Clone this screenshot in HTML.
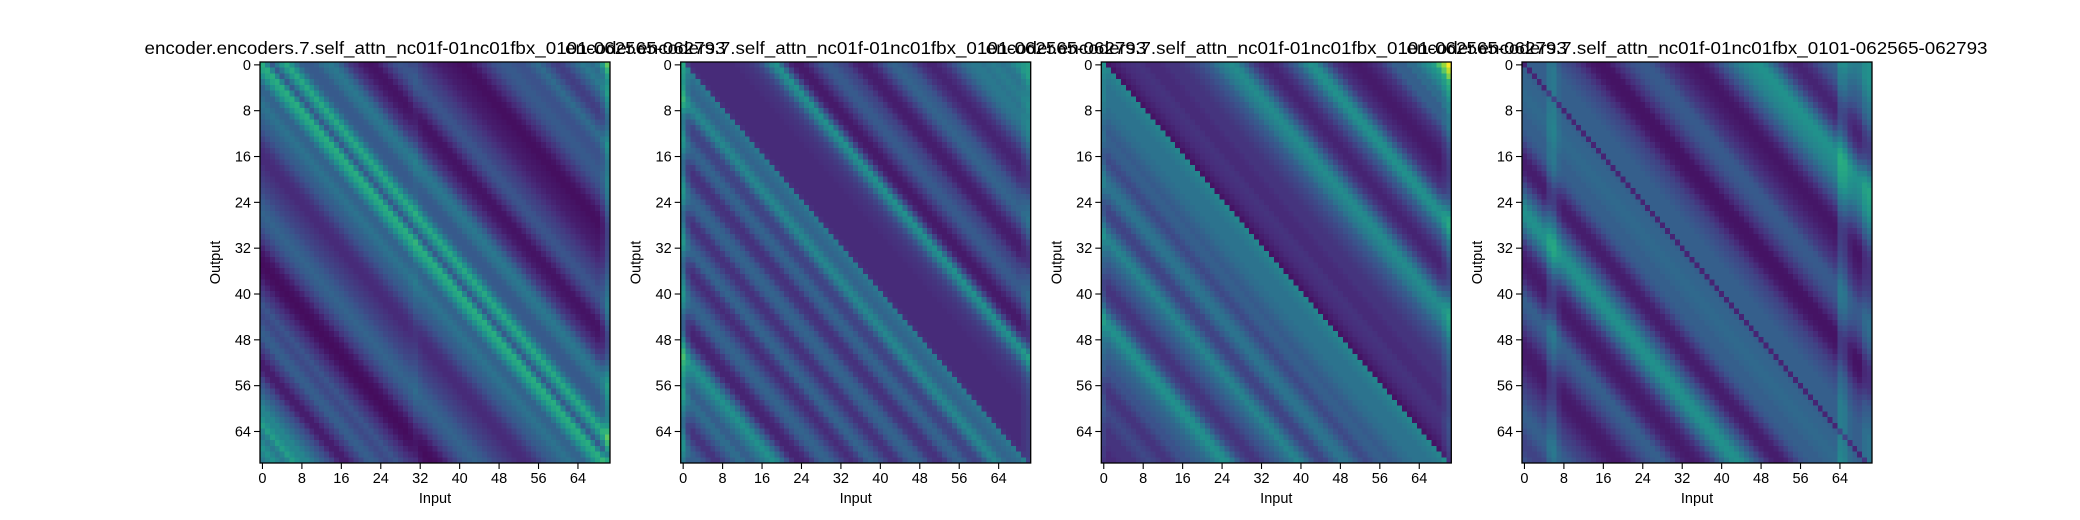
<!DOCTYPE html>
<html><head><meta charset="utf-8">
<style>
html,body{margin:0;padding:0;background:#fff;}
svg{display:block;}
text{font-family:"Liberation Sans","DejaVu Sans",sans-serif;fill:#000;}
</style></head>
<body>
<svg id="fig" width="2080" height="520" viewBox="0 0 2080 520" xmlns="http://www.w3.org/2000/svg">
<rect x="0" y="0" width="2080" height="520" fill="#fff"/>
</svg>
<script>
// ---- data (values normalized 0..1), diagonal profile indexed by d = input - output, d from -70..70
const nRows = 70;
const nCols = 71;
const tickValues = [0,8,16,24,32,40,48,56,64];
const panelTitle = "encoder.encoders.7.self_attn_nc01f-01nc01fbx_0101-062565-062793";

const diagPanel1 = [
0.45,0.4,0.45,0.5,0.45,0.4,0.45,0.55,0.5,0.45,
0.45,0.4,0.35,0.3,0.25,0.2,0.12,0.08,0.08,0.12,
0.18,0.22,0.28,0.3,0.28,0.24,0.22,0.24,0.26,0.22,
0.18,0.14,0.1,0.06,0.04,0.03,0.04,0.06,0.1,0.16,
0.2,0.24,0.28,0.3,0.32,0.3,0.28,0.25,0.22,0.2,
0.18,0.16,0.14,0.12,0.12,0.13,0.16,0.2,0.24,0.28,
0.3,0.33,0.36,0.38,0.35,0.32,0.32,0.4,0.5,0.58,
0.62,0.45,0.28,0.4,0.52,0.6,0.5,0.38,0.3,0.28,
0.28,0.3,0.35,0.38,0.4,0.36,0.3,0.22,0.16,0.12,
0.08,0.06,0.05,0.06,0.1,0.15,0.2,0.24,0.26,0.25,
0.22,0.2,0.18,0.15,0.12,0.1,0.08,0.07,0.06,0.05,
0.04,0.04,0.05,0.08,0.12,0.16,0.2,0.24,0.26,0.28,
0.28,0.26,0.25,0.25,0.28,0.32,0.35,0.3,0.25,0.2,
0.18,0.2,0.25,0.3,0.35,0.4,0.38,0.35,0.4,0.5,0.6];

const diagPanel2 = [
0.2,0.2,0.25,0.3,0.3,0.25,0.2,0.15,0.15,0.2,
0.25,0.3,0.35,0.35,0.3,0.3,0.35,0.4,0.45,0.5,
0.45,0.35,0.25,0.15,0.1,0.1,0.12,0.18,0.25,0.3,
0.32,0.3,0.25,0.2,0.15,0.12,0.15,0.2,0.28,0.32,
0.3,0.25,0.2,0.15,0.14,0.18,0.25,0.3,0.32,0.3,
0.25,0.18,0.15,0.14,0.18,0.25,0.3,0.32,0.28,0.22,
0.2,0.22,0.3,0.4,0.46,0.42,0.35,0.32,0.34,0.36,
0.4,0.14,0.12,0.12,0.12,0.12,0.12,0.12,0.12,0.12,
0.12,0.13,0.14,0.15,0.17,0.2,0.25,0.35,0.45,0.5,
0.35,0.2,0.1,0.07,0.07,0.1,0.15,0.2,0.25,0.28,
0.28,0.25,0.22,0.2,0.15,0.1,0.08,0.08,0.1,0.14,
0.2,0.25,0.3,0.32,0.3,0.28,0.25,0.2,0.15,0.12,
0.1,0.1,0.12,0.15,0.2,0.25,0.3,0.35,0.38,0.4,
0.4,0.38,0.4,0.42,0.4,0.38,0.4,0.45,0.5,0.5,0.5];

const diagPanel3 = [
0.1,0.1,0.12,0.12,0.14,0.15,0.15,0.15,0.18,0.2,
0.22,0.2,0.18,0.15,0.15,0.18,0.22,0.25,0.25,0.28,
0.3,0.32,0.35,0.4,0.45,0.5,0.48,0.4,0.3,0.22,
0.18,0.15,0.15,0.18,0.22,0.25,0.28,0.32,0.36,0.4,
0.45,0.42,0.35,0.28,0.22,0.2,0.22,0.28,0.33,0.38,
0.38,0.35,0.3,0.25,0.22,0.24,0.28,0.3,0.3,0.28,
0.3,0.32,0.35,0.36,0.38,0.38,0.38,0.38,0.4,0.42,
0.45,0.05,0.08,0.1,0.12,0.13,0.14,0.15,0.14,0.12,
0.12,0.12,0.13,0.15,0.15,0.15,0.16,0.18,0.2,0.22,
0.25,0.28,0.32,0.38,0.42,0.45,0.48,0.45,0.38,0.3,
0.22,0.16,0.12,0.1,0.1,0.12,0.15,0.2,0.25,0.3,
0.38,0.45,0.5,0.48,0.4,0.3,0.22,0.15,0.12,0.1,
0.08,0.07,0.07,0.08,0.1,0.12,0.15,0.2,0.25,0.3,
0.3,0.3,0.35,0.35,0.4,0.45,0.5,0.55,0.7,0.8,0.9];

const diagPanel4 = [
0.25,0.25,0.22,0.2,0.2,0.22,0.25,0.28,0.3,0.3,
0.28,0.25,0.22,0.2,0.18,0.15,0.12,0.1,0.08,0.07,
0.07,0.08,0.1,0.14,0.18,0.22,0.25,0.28,0.3,0.3,
0.25,0.2,0.14,0.1,0.08,0.07,0.08,0.1,0.14,0.2,
0.28,0.35,0.42,0.48,0.5,0.48,0.42,0.35,0.28,0.22,
0.15,0.1,0.08,0.08,0.1,0.15,0.2,0.25,0.28,0.3,
0.3,0.3,0.32,0.33,0.34,0.34,0.33,0.32,0.32,0.3,
0.1,0.3,0.3,0.3,0.3,0.3,0.28,0.26,0.24,0.22,
0.2,0.16,0.12,0.08,0.06,0.05,0.05,0.06,0.1,0.14,
0.18,0.22,0.25,0.27,0.28,0.28,0.26,0.22,0.18,0.15,
0.12,0.1,0.08,0.07,0.06,0.06,0.07,0.1,0.14,0.2,
0.25,0.3,0.35,0.4,0.44,0.46,0.48,0.5,0.5,0.45,
0.38,0.3,0.22,0.16,0.12,0.1,0.1,0.12,0.15,0.2,
0.24,0.28,0.3,0.32,0.35,0.38,0.4,0.42,0.42,0.42,0.42];

// per-column additive brightness (input positions)
const colPanel1 = [0,0,0,0,0,0,0,0,0,0, 0,0,0,0,0,0,0,0,0,0, 0,0,0,0,0,0,0,0,0,0, 0.01,0.03,0.01,0,0,0,0,0,0,0, 0,0,0,0,0,0,0,0,0,0, 0,0,0,0,0,0,0,0,0,0, 0,0,0,0,0,0,0,0,0,0.04,0.15];
const colPanel2 = [0.2,0.05,0,0,0,0,0,0,0,0, 0,0,0,0,0,0,0,0,0,0, 0,0,0,0,0,0,0,0,0,0, 0,0,0,0,0,0,0,0,0,0, 0,0,0,0,0,0,0,0,0,0, 0,0,0,0,0,0,0,0,0,0, 0,0,0,0,0,0,0,0,0,0.03,0.06];
const colPanel3 = [0.05,0,0,0,0,0,0,0,0,0, 0,0,0,0,0,0,0,0,0,0, 0,0,0,0,0,0,0,0,0,0, 0,0,0,0,0,0,0,0,0,0, 0,0,0,0,0,0,0,0,0,0, 0,0,0,0,0,0,0,0,0,0, 0,0,0,0,0,0,0,0,0,0.04,0.1];
const colPanel4 = [0,0,0,0,0,0.08,0.1,0.03,0,0, 0,0,0,0,0,0,0,0,0,0, 0,0,0,0,0,0,0,0,0,0, 0,0,0,0,0,0,0,0,0,0, 0,0,0,0,0,0,0,0,0,0, 0,0,0,0,0,0,0,0,0,0, 0,0,0,0,0.12,0.1,0.03,0,0,0.06,0.08];

const panelDiags = [diagPanel1, diagPanel2, diagPanel3, diagPanel4];
const panelCols = [colPanel1, colPanel2, colPanel3, colPanel4];

// ---- layout
const panelLefts = [260, 680.7, 1101.3, 1522];
const plotTop = 62, plotW = 350, plotH = 401;
const cellW = plotW / nCols, cellH = plotH / nRows;
const NS = "http://www.w3.org/2000/svg";
const svg = document.getElementById('fig');

const viridis = [[68,1,84],[71,45,123],[59,82,139],[44,114,142],[33,145,140],[40,174,128],[94,201,98],[173,220,48],[253,231,37]];
function colorOf(v){
  v = Math.max(0, Math.min(1, v));
  const p = v * (viridis.length - 1);
  const i = Math.min(viridis.length - 2, Math.floor(p));
  const t = p - i;
  const a = viridis[i], b = viridis[i+1];
  return 'rgb(' + Math.round(a[0]+(b[0]-a[0])*t) + ',' + Math.round(a[1]+(b[1]-a[1])*t) + ',' + Math.round(a[2]+(b[2]-a[2])*t) + ')';
}
function xScale(p, col){ return panelLefts[p] + col * cellW; }
function yScale(row){ return plotTop + row * cellH; }
function mk(tag, attrs){ const e = document.createElementNS(NS, tag); for (const k in attrs) e.setAttribute(k, attrs[k]); return e; }

for (let p = 0; p < 4; p++) {
  const g = mk('g', {});
  
  
  svg.appendChild(g);
  const cells = mk('g', {'shape-rendering':'crispEdges'});
  
  
  g.appendChild(cells);
  const diag = panelDiags[p], cols = panelCols[p];
  for (let r = 0; r < nRows; r++) {
    for (let c = 0; c < nCols; c++) {
      const v = diag[c - r + 70] + cols[c];
      const x0 = xScale(p, c), y0 = yScale(r);
      const rc = mk('rect', {x: x0.toFixed(2), y: y0.toFixed(2), width: (cellW + 0.4).toFixed(2), height: (cellH + 0.4).toFixed(2), fill: colorOf(v)});
      
      
      cells.appendChild(rc);
    }
  }
  const frame = mk('rect', {x: panelLefts[p], y: plotTop, width: plotW, height: plotH, fill: 'none', stroke: '#000', 'stroke-width': 1.3});
  
  
  g.appendChild(frame);
  for (const t of tickValues) {
    const tx = xScale(p, t + 0.5);
    const xt = mk('line', {x1: tx, y1: plotTop + plotH, x2: tx, y2: plotTop + plotH + 6, stroke: '#000', 'stroke-width': 1.1});
    
    
    g.appendChild(xt);
    const xl = mk('text', {x: tx, y: 483, 'font-size': 14.5, 'text-anchor': 'middle'});
    
    
    xl.textContent = String(t);
    g.appendChild(xl);
    const ty = yScale(t + 0.5);
    const yt = mk('line', {x1: panelLefts[p] - 6, y1: ty, x2: panelLefts[p], y2: ty, stroke: '#000', 'stroke-width': 1.1});
    
    
    g.appendChild(yt);
    const yl = mk('text', {x: panelLefts[p] - 9, y: ty + 5, 'font-size': 14.5, 'text-anchor': 'end'});
    
    
    yl.textContent = String(t);
    g.appendChild(yl);
  }
  const xlab = mk('text', {x: panelLefts[p] + plotW/2, y: 503, 'font-size': 14.5, 'text-anchor': 'middle'});
  
  
  xlab.textContent = 'Input';
  g.appendChild(xlab);
  const ylx = panelLefts[p] - 40, yly = plotTop + plotH/2;
  const ylab = mk('text', {x: ylx, y: yly, 'font-size': 14.5, 'text-anchor': 'middle', transform: 'rotate(-90 ' + ylx + ' ' + yly + ')'});
  
  
  ylab.textContent = 'Output';
  g.appendChild(ylab);
  const title = mk('text', {x: panelLefts[p] + plotW/2, y: 54, 'font-size': 17.5, 'text-anchor': 'middle', textLength: 581, lengthAdjust: 'spacingAndGlyphs'});
  
  
  title.textContent = panelTitle;
  g.appendChild(title);
}
</script>
</body></html>
